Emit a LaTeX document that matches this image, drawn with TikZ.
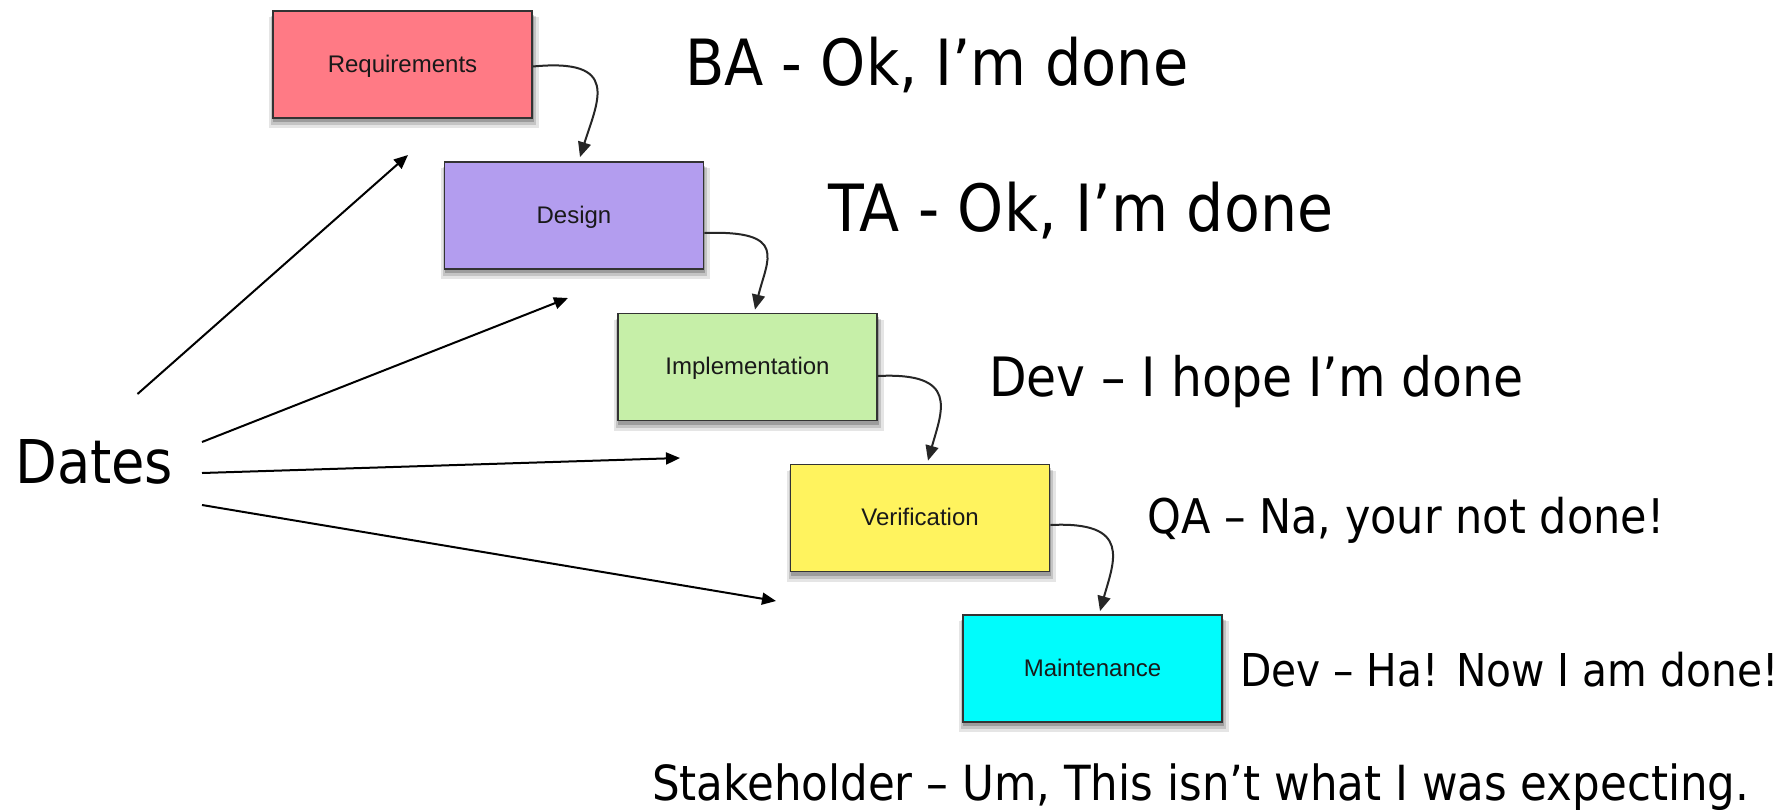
\documentclass[tikz,border=0pt]{standalone}
\usepackage{fontspec}
\setmainfont{DejaVu Sans}[FakeStretch=0.9]
\newfontfamily\boxfont{Liberation Sans}
\usetikzlibrary{arrows.meta,shadows,calc}
\definecolor{reqc}{HTML}{FF7A85}
\definecolor{desc}{HTML}{B39DEF}
\definecolor{impc}{HTML}{C6EFA8}
\definecolor{verc}{HTML}{FFF35E}
\definecolor{maic}{HTML}{00FCFC}
\definecolor{edge}{HTML}{333333}
\tikzset{
  softshadow/.style={
    general shadow={fill=black, opacity=.10, shadow xshift=1.5pt, shadow yshift=-8pt, shadow scale=1.04},
    general shadow={fill=black, opacity=.14, shadow xshift=1pt, shadow yshift=-6pt, shadow scale=1.02},
    general shadow={fill=black, opacity=.20, shadow xshift=1pt, shadow yshift=-4pt, shadow scale=1.005}},
  stage/.style={softshadow, draw=edge, line width=1.8pt, minimum width=259pt, minimum height=107pt,
    inner sep=0pt, text height=17pt, text depth=2pt,
    font=\boxfont\fontsize{24}{26}\selectfont, text=black!90},
  flow/.style={draw=black!85, line width=2pt, -{Triangle[width=13pt,length=15pt]}},
  datearrow/.style={draw=black, line width=2pt, -{Triangle[width=12pt,length=14pt]}},
  say/.style={inner sep=0pt, anchor=base west, text=black}
}
\begin{document}
\begin{tikzpicture}[x=1pt,y=-1pt]
\fill[white] (0,0) rectangle (1785,809);
\useasboundingbox (0,0) rectangle (1785,809);

% stages
\node[stage, fill=reqc] (req) at (402.5,64.5) {Requirements};
\node[stage, fill=desc] (des) at (574,215.5) {Design};
\node[stage, fill=impc] (imp) at (747.5,367) {Implementation};
\node[stage, fill=verc] (ver) at (920,518) {Verification};
\node[stage, fill=maic] (mai) at (1092.5,668.5) {Maintenance};

% flow connectors
\draw[flow] ($(req.east)+(0,2)$) .. controls +(88,-8.5) and +(18,-57) .. ($(des.north)+(6,-4)$);
\draw[flow] ($(des.east)+(0,17.5)$) .. controls +(85,-3) and +(12,-50) .. ($(imp.north)+(7.5,-3)$);
\draw[flow] ($(imp.east)+(0,9)$) .. controls +(82,-4) and +(14,-50) .. ($(ver.north)+(8,-3)$);
\draw[flow] ($(ver.east)+(0,7)$) .. controls +(82,-4) and +(14,-50) .. ($(mai.north)+(7.5,-3)$);

% texts
\node[say] (ba) at (685,85.5) {\resizebox{503pt}{!}{BA - Ok, I’m done}};
\node[say] (ta) at (828,231) {\resizebox{505pt}{!}{TA - Ok, I’m done}};
\node[say] (dev1) at (989,396) {\resizebox{534pt}{!}{Dev – I hope I’m done}};
\node[say] (qa) at (1147,533) {\resizebox{517pt}{!}{QA – Na, your not done!}};
\node[say] (dev2) at (1240,686) {\resizebox{538pt}{!}{Dev – Ha! Now I am done!}};
\node[say] (stake) at (652,800) {\resizebox{1097pt}{!}{Stakeholder – Um, This isn’t what I was expecting.}};
\node[say] (dates) at (15,483.5) {\resizebox{158pt}{!}{Dates}};

% date arrows
\coordinate (d1s) at (137.5,394);
\coordinate (d1e) at (408,155);
\coordinate (d2s) at (202,442);
\coordinate (d2e) at (568,298);
\coordinate (d3s) at (202,473);
\coordinate (d3e) at (680,458);
\coordinate (d4s) at (202,505);
\coordinate (d4e) at (776,601);
\draw[datearrow] (d1s) -- (d1e);
\draw[datearrow] (d2s) -- (d2e);
\draw[datearrow] (d3s) -- (d3e);
\draw[datearrow] (d4s) -- (d4e);
\end{tikzpicture}
\end{document}
